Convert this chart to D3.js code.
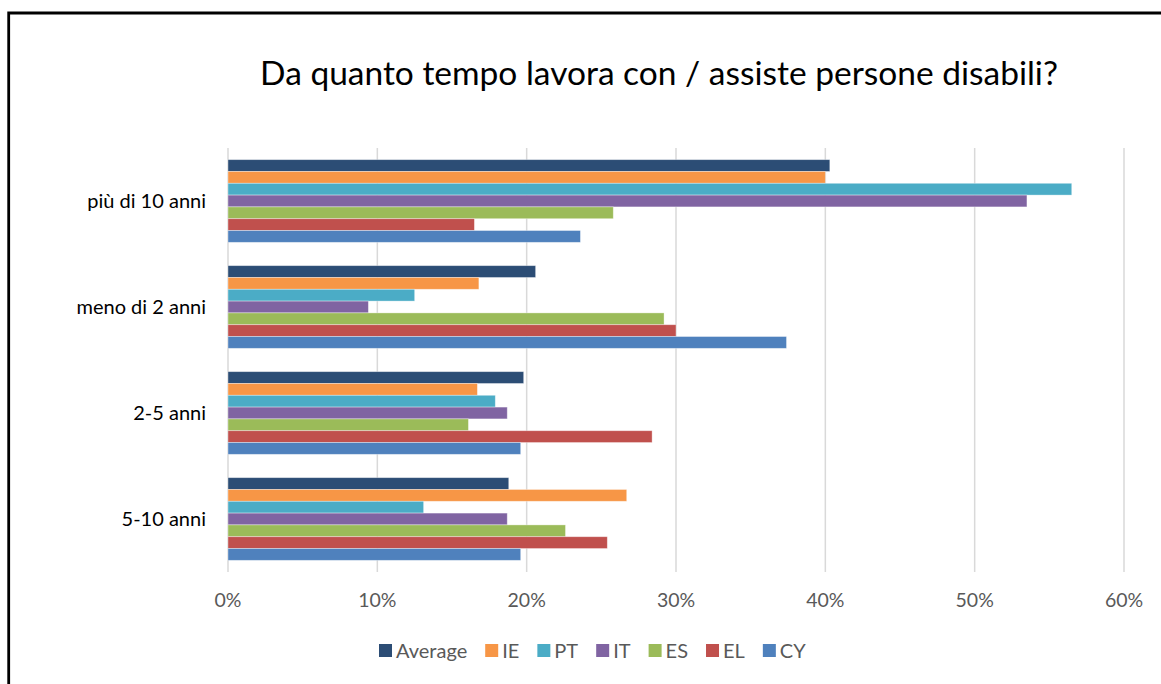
<!DOCTYPE html>
<meta charset="utf-8">
<style>
body { margin: 0; background: #fff; }
svg { display: block; font-family: Lato, "Open Sans", sans-serif; }
.grid line { stroke: #d9d9d9; stroke-width: 1.5px; }
.tick-label { fill: #595959; font-size: 19.5px; }
.cat-label { fill: #000; font-size: 20px; }
.legend text { fill: #595959; font-size: 20px; }
</style>
<svg width="1161" height="684"></svg>
<script src="https://d3js.org/d3.v7.min.js"></script>
<script>

var categories = ["più di 10 anni", "meno di 2 anni", "2-5 anni", "5-10 anni"];
var seriesNames = ["Average", "IE", "PT", "IT", "ES", "EL", "CY"];
var seriesColors = ["#2c4d75", "#f79646", "#4bacc6", "#8064a2", "#9bbb59", "#c0504d", "#4f81bd"];

// values in %, one array per series, in category order
var average = [40.3, 20.6, 19.8, 18.8];
var ie      = [40.0, 16.8, 16.7, 26.7];
var pt      = [56.5, 12.5, 17.9, 13.1];
var it      = [53.5,  9.4, 18.7, 18.7];
var es      = [25.8, 29.2, 16.1, 22.6];
var el      = [16.5, 30.0, 28.4, 25.4];
var cy      = [23.6, 37.4, 19.6, 19.6];
var seriesValues = [average, ie, pt, it, es, el, cy];

var tickValues = [0, 10, 20, 30, 40, 50, 60];

var svg = d3.select("svg");

// frame (left and top edge only, rest is cut off)
svg.append("path")
    .attr("d", "M8.7,700V13H1170")
    .attr("fill", "none")
    .attr("stroke", "#000")
    .attr("stroke-width", 2.8);

svg.append("text")
    .attr("x", 659)
    .attr("y", 85)
    .attr("text-anchor", "middle")
    .attr("font-size", 33.5)
    .attr("fill", "#000")
    .text("Da quanto tempo lavora con / assiste persone disabili?");

var x = d3.scaleLinear().domain([0, 60]).range([228, 1124]);

var y = d3.scaleBand()
    .domain(categories)
    .range([148, 572])
    .paddingInner(0.22)
    .paddingOuter(0.11);

var ySeries = d3.scaleBand()
    .domain(seriesNames)
    .range([0, y.bandwidth()]);

var grid = svg.append("g").attr("class", "grid");
grid.selectAll("line")
    .data(tickValues)
    .enter().append("line")
    .attr("x1", function(d) { return x(d); })
    .attr("x2", function(d) { return x(d); })
    .attr("y1", 148)
    .attr("y2", 572);

svg.append("g")
  .selectAll("text")
  .data(tickValues)
  .enter().append("text")
    .attr("class", "tick-label")
    .attr("x", function(d) { return x(d); })
    .attr("y", 607)
    .attr("text-anchor", "middle")
    .text(function(d) { return d + "%"; });

svg.append("g")
  .selectAll("text")
  .data(categories)
  .enter().append("text")
    .attr("class", "cat-label")
    .attr("x", 206)
    .attr("y", function(d) { return y(d) + y.bandwidth() / 2; })
    .attr("dy", "0.35em")
    .attr("text-anchor", "end")
    .text(function(d) { return d; });

var groups = svg.append("g")
  .selectAll("g")
  .data(categories)
  .enter().append("g")
    .attr("transform", function(d) { return "translate(0," + y(d) + ")"; });

groups.selectAll("rect")
    .data(function(d, i) {
      return seriesNames.map(function(s, j) { return {name: s, value: seriesValues[j][i], color: seriesColors[j]}; });
    })
    .enter().append("rect")
    .attr("x", x(0))
    .attr("y", function(d) { return ySeries(d.name); })
    .attr("width", function(d) { return x(d.value) - x(0); })
    .attr("height", ySeries.bandwidth())
    .attr("fill", function(d) { return d.color; })
    .attr("stroke", "#fff")
    .attr("stroke-opacity", 0.45)
    .attr("stroke-width", 0.8);

// legend
var legend = svg.append("g").attr("class", "legend");
var lx = 379;
seriesNames.forEach(function(s, i) {
  legend.append("rect")
      .attr("x", lx)
      .attr("y", 644)
      .attr("width", 13)
      .attr("height", 13)
      .attr("fill", seriesColors[i]);
  var t = legend.append("text")
      .attr("x", lx + 17)
      .attr("y", 651)
      .attr("dy", "0.35em")
      .text(s);
  lx += 17 + t.node().getComputedTextLength() + 18;
});

</script>
